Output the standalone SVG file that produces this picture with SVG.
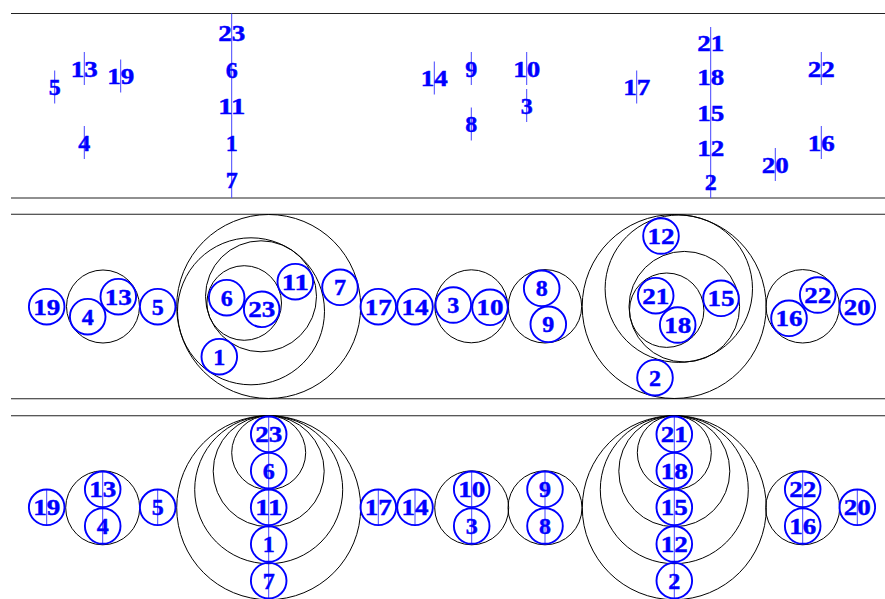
<svg xmlns="http://www.w3.org/2000/svg" width="885" height="599" viewBox="0 0 885 599">
<style>
.rule{stroke:#222;stroke-width:1.1;fill:none}
.bc{stroke:#000;stroke-width:1;fill:none}
.lc{stroke:#0000ff;stroke-width:1.9;fill:none}
.vl{stroke:#4444ff;stroke-width:1;fill:none}
text{font-family:"Liberation Serif","Times New Roman",serif;font-weight:bold;font-size:24px;fill:#0000ff;stroke:#0000ff;stroke-width:0.45;text-anchor:middle}
</style>
<rect width="885" height="599" fill="#fff"/>
<g id="rules">
<line class="rule" x1="11" y1="13.5" x2="885" y2="13.5"/>
<line class="rule" x1="11" y1="198" x2="885" y2="198"/>
<line class="rule" x1="11" y1="214.3" x2="885" y2="214.3"/>
<line class="rule" x1="11" y1="398.7" x2="885" y2="398.7"/>
<line class="rule" x1="11" y1="415.7" x2="885" y2="415.7"/>
</g>
<!-- connectors / guide lines -->
<g id="connectors">
<line class="vl" x1="54.7" y1="70.5" x2="54.7" y2="103.5"/>
<line class="vl" x1="84.3" y1="52" x2="84.3" y2="85"/>
<line class="vl" x1="120.7" y1="59.5" x2="120.7" y2="92.5"/>
<line class="vl" x1="84.3" y1="126" x2="84.3" y2="159"/>
<line class="vl" x1="231.7" y1="13.5" x2="231.7" y2="198"/>
<line class="vl" x1="434.3" y1="61.5" x2="434.3" y2="94.5"/>
<line class="vl" x1="471.3" y1="52" x2="471.3" y2="85"/>
<line class="vl" x1="471.3" y1="107.5" x2="471.3" y2="140.5"/>
<line class="vl" x1="526.7" y1="52" x2="526.7" y2="85"/>
<line class="vl" x1="526.7" y1="89" x2="526.7" y2="122"/>
<line class="vl" x1="636.7" y1="70.5" x2="636.7" y2="103.5"/>
<line class="vl" x1="710.7" y1="27" x2="710.7" y2="198"/>
<line class="vl" x1="821.3" y1="52" x2="821.3" y2="85"/>
<line class="vl" x1="821.3" y1="126" x2="821.3" y2="159"/>
<line class="vl" x1="775.3" y1="148" x2="775.3" y2="181"/>
<!-- bottom panel -->
<line class="vl" x1="46.7" y1="489.5" x2="46.7" y2="525.1"/>
<line class="vl" x1="102.7" y1="470.8" x2="102.7" y2="544.8"/>
<line class="vl" x1="157.7" y1="489.5" x2="157.7" y2="525.1"/>
<line class="vl" x1="268.7" y1="415.7" x2="268.7" y2="599"/>
<line class="vl" x1="378.3" y1="489.5" x2="378.3" y2="525.1"/>
<line class="vl" x1="415" y1="489.5" x2="415" y2="525.1"/>
<line class="vl" x1="471.7" y1="470.8" x2="471.7" y2="544.8"/>
<line class="vl" x1="545" y1="470.8" x2="545" y2="544.8"/>
<line class="vl" x1="674.3" y1="415.7" x2="674.3" y2="599"/>
<line class="vl" x1="802.7" y1="470.8" x2="802.7" y2="544.8"/>
<line class="vl" x1="857.3" y1="489.5" x2="857.3" y2="525.1"/>
</g>
<!-- TOP PANEL labels -->
<g id="top-5"><text x="54.7" y="95">5</text></g>
<g id="top-13"><text x="84.3" y="76.5" textLength="27" lengthAdjust="spacingAndGlyphs">13</text></g>
<g id="top-19"><text x="120.7" y="84" textLength="27" lengthAdjust="spacingAndGlyphs">19</text></g>
<g id="top-4"><text x="84.3" y="150.5">4</text></g>
<g id="top-23"><text x="231.7" y="40.8" textLength="27" lengthAdjust="spacingAndGlyphs">23</text></g>
<g id="top-6"><text x="231.7" y="77.5">6</text></g>
<g id="top-11"><text x="231.7" y="114.2" textLength="27" lengthAdjust="spacingAndGlyphs">11</text></g>
<g id="top-1"><text x="231.7" y="150.9">1</text></g>
<g id="top-7"><text x="231.7" y="187.6">7</text></g>
<g id="top-14"><text x="434.3" y="86" textLength="27" lengthAdjust="spacingAndGlyphs">14</text></g>
<g id="top-9"><text x="471.3" y="76.5">9</text></g>
<g id="top-8"><text x="471.3" y="132">8</text></g>
<g id="top-10"><text x="526.7" y="76.5" textLength="27" lengthAdjust="spacingAndGlyphs">10</text></g>
<g id="top-3"><text x="526.7" y="113.5">3</text></g>
<g id="top-17"><text x="636.7" y="95" textLength="27" lengthAdjust="spacingAndGlyphs">17</text></g>
<g id="top-21"><text x="710.7" y="51.3" textLength="27" lengthAdjust="spacingAndGlyphs">21</text></g>
<g id="top-18"><text x="710.7" y="85.3" textLength="27" lengthAdjust="spacingAndGlyphs">18</text></g>
<g id="top-15"><text x="710.7" y="120.5" textLength="27" lengthAdjust="spacingAndGlyphs">15</text></g>
<g id="top-12"><text x="710.7" y="155.7" textLength="27" lengthAdjust="spacingAndGlyphs">12</text></g>
<g id="top-2"><text x="710.7" y="189.7">2</text></g>
<g id="top-22"><text x="821.3" y="76.5" textLength="27" lengthAdjust="spacingAndGlyphs">22</text></g>
<g id="top-16"><text x="821.3" y="150.5" textLength="27" lengthAdjust="spacingAndGlyphs">16</text></g>
<g id="top-20"><text x="775.3" y="172.5" textLength="27" lengthAdjust="spacingAndGlyphs">20</text></g>
<!-- MIDDLE PANEL -->
<g id="mid-group-a"><circle class="bc" cx="103" cy="306.5" r="36.5"/></g>
<g id="mid-group-b">
<circle class="bc" cx="268.7" cy="306.5" r="92"/>
<circle class="bc" cx="251" cy="311.3" r="73.5"/>
<circle class="bc" cx="261" cy="296.3" r="55.5"/>
<circle class="bc" cx="244.2" cy="303" r="37.3"/>
</g>
<g id="mid-group-c"><circle class="bc" cx="471.3" cy="306.3" r="36.5"/></g>
<g id="mid-group-d"><circle class="bc" cx="545" cy="306.3" r="36.7"/></g>
<g id="mid-group-e">
<circle class="bc" cx="674.2" cy="306.5" r="92"/>
<circle class="bc" cx="678.8" cy="288.7" r="73.7"/>
<circle class="bc" cx="684.3" cy="306.7" r="55.3"/>
<circle class="bc" cx="666.7" cy="310.2" r="37.2"/>
</g>
<g id="mid-group-f"><circle class="bc" cx="802.7" cy="306.3" r="36.7"/></g>
<g id="mid-19"><circle class="lc" cx="46.7" cy="306.7" r="17.8"/><text x="46.7" y="314.7" textLength="27" lengthAdjust="spacingAndGlyphs">19</text></g>
<g id="mid-4"><circle class="lc" cx="87.7" cy="316.7" r="17.8"/><text x="87.7" y="324.7">4</text></g>
<g id="mid-13"><circle class="lc" cx="118.3" cy="296.7" r="17.8"/><text x="118.3" y="304.7" textLength="27" lengthAdjust="spacingAndGlyphs">13</text></g>
<g id="mid-5"><circle class="lc" cx="157.7" cy="306.7" r="17.8"/><text x="157.7" y="314.7">5</text></g>
<g id="mid-6"><circle class="lc" cx="226.7" cy="297.7" r="17.8"/><text x="226.7" y="305.7">6</text></g>
<g id="mid-23"><circle class="lc" cx="261.7" cy="309.3" r="17.8"/><text x="261.7" y="317.3" textLength="27" lengthAdjust="spacingAndGlyphs">23</text></g>
<g id="mid-11"><circle class="lc" cx="295.3" cy="281.7" r="17.8"/><text x="295.3" y="289.7" textLength="27" lengthAdjust="spacingAndGlyphs">11</text></g>
<g id="mid-7"><circle class="lc" cx="340" cy="287.3" r="17.8"/><text x="340" y="295.3">7</text></g>
<g id="mid-1"><circle class="lc" cx="219.3" cy="356.7" r="17.8"/><text x="219.3" y="364.7">1</text></g>
<g id="mid-17"><circle class="lc" cx="378.3" cy="306.7" r="17.8"/><text x="378.3" y="314.7" textLength="27" lengthAdjust="spacingAndGlyphs">17</text></g>
<g id="mid-14"><circle class="lc" cx="415" cy="306.7" r="17.8"/><text x="415" y="314.7" textLength="27" lengthAdjust="spacingAndGlyphs">14</text></g>
<g id="mid-3"><circle class="lc" cx="453.3" cy="305" r="17.8"/><text x="453.3" y="313">3</text></g>
<g id="mid-10"><circle class="lc" cx="490" cy="307.3" r="17.8"/><text x="490" y="315.3" textLength="27" lengthAdjust="spacingAndGlyphs">10</text></g>
<g id="mid-8"><circle class="lc" cx="541.7" cy="288.3" r="17.8"/><text x="541.7" y="296.3">8</text></g>
<g id="mid-9"><circle class="lc" cx="548.3" cy="324.3" r="17.8"/><text x="548.3" y="332.3">9</text></g>
<g id="mid-12"><circle class="lc" cx="661" cy="236" r="17.8"/><text x="661" y="244" textLength="27" lengthAdjust="spacingAndGlyphs">12</text></g>
<g id="mid-21"><circle class="lc" cx="655.7" cy="295.7" r="17.8"/><text x="655.7" y="303.7" textLength="27" lengthAdjust="spacingAndGlyphs">21</text></g>
<g id="mid-18"><circle class="lc" cx="677.7" cy="325" r="17.8"/><text x="677.7" y="333" textLength="27" lengthAdjust="spacingAndGlyphs">18</text></g>
<g id="mid-15"><circle class="lc" cx="721" cy="298.3" r="17.8"/><text x="721" y="306.3" textLength="27" lengthAdjust="spacingAndGlyphs">15</text></g>
<g id="mid-2"><circle class="lc" cx="655" cy="377.7" r="17.8"/><text x="655" y="385.7">2</text></g>
<g id="mid-16"><circle class="lc" cx="789" cy="318.3" r="17.8"/><text x="789" y="326.3" textLength="27" lengthAdjust="spacingAndGlyphs">16</text></g>
<g id="mid-22"><circle class="lc" cx="817.7" cy="295" r="17.8"/><text x="817.7" y="303" textLength="27" lengthAdjust="spacingAndGlyphs">22</text></g>
<g id="mid-20"><circle class="lc" cx="857.3" cy="306.7" r="17.8"/><text x="857.3" y="314.7" textLength="27" lengthAdjust="spacingAndGlyphs">20</text></g>
<!-- BOTTOM PANEL -->
<g id="bot-group-a"><circle class="bc" cx="102.7" cy="507.8" r="37"/></g>
<g id="bot-group-b">
<circle class="bc" cx="268.7" cy="507.7" r="92"/>
<circle class="bc" cx="268.7" cy="489.7" r="74"/>
<circle class="bc" cx="268.7" cy="471.2" r="55.5"/>
<circle class="bc" cx="268.7" cy="452.7" r="37"/>
</g>
<g id="bot-group-c"><circle class="bc" cx="471.7" cy="507.8" r="37"/></g>
<g id="bot-group-d"><circle class="bc" cx="545" cy="507.8" r="37"/></g>
<g id="bot-group-e">
<circle class="bc" cx="674.3" cy="507.7" r="92"/>
<circle class="bc" cx="674.3" cy="489.7" r="74"/>
<circle class="bc" cx="674.3" cy="471.2" r="55.5"/>
<circle class="bc" cx="674.3" cy="452.7" r="37"/>
</g>
<g id="bot-group-f"><circle class="bc" cx="802.7" cy="507.8" r="37"/></g>
<g id="bot-19"><circle class="lc" cx="46.7" cy="507.3" r="17.8"/><text x="46.7" y="515.3" textLength="27" lengthAdjust="spacingAndGlyphs">19</text></g>
<g id="bot-13"><circle class="lc" cx="102.7" cy="489.3" r="17.8"/><text x="102.7" y="497.3" textLength="27" lengthAdjust="spacingAndGlyphs">13</text></g>
<g id="bot-4"><circle class="lc" cx="102.7" cy="526" r="17.8"/><text x="102.7" y="534">4</text></g>
<g id="bot-5"><circle class="lc" cx="157.7" cy="507.3" r="17.8"/><text x="157.7" y="515.3">5</text></g>
<g id="bot-23"><circle class="lc" cx="268.7" cy="434.3" r="17.8"/><text x="268.7" y="442.3" textLength="27" lengthAdjust="spacingAndGlyphs">23</text></g>
<g id="bot-6"><circle class="lc" cx="268.7" cy="470.7" r="17.8"/><text x="268.7" y="478.7">6</text></g>
<g id="bot-11"><circle class="lc" cx="268.7" cy="507.3" r="17.8"/><text x="268.7" y="515.3" textLength="27" lengthAdjust="spacingAndGlyphs">11</text></g>
<g id="bot-1"><circle class="lc" cx="268.7" cy="544" r="17.8"/><text x="268.7" y="552">1</text></g>
<g id="bot-7"><circle class="lc" cx="268.7" cy="580.7" r="17.8"/><text x="268.7" y="588.7">7</text></g>
<g id="bot-17"><circle class="lc" cx="378.3" cy="507.3" r="17.8"/><text x="378.3" y="515.3" textLength="27" lengthAdjust="spacingAndGlyphs">17</text></g>
<g id="bot-14"><circle class="lc" cx="415" cy="507.3" r="17.8"/><text x="415" y="515.3" textLength="27" lengthAdjust="spacingAndGlyphs">14</text></g>
<g id="bot-10"><circle class="lc" cx="471.7" cy="489.3" r="17.8"/><text x="471.7" y="497.3" textLength="27" lengthAdjust="spacingAndGlyphs">10</text></g>
<g id="bot-3"><circle class="lc" cx="471.7" cy="526" r="17.8"/><text x="471.7" y="534">3</text></g>
<g id="bot-9"><circle class="lc" cx="545" cy="489.3" r="17.8"/><text x="545" y="497.3">9</text></g>
<g id="bot-8"><circle class="lc" cx="545" cy="526" r="17.8"/><text x="545" y="534">8</text></g>
<g id="bot-21"><circle class="lc" cx="674.3" cy="434.3" r="17.8"/><text x="674.3" y="442.3" textLength="27" lengthAdjust="spacingAndGlyphs">21</text></g>
<g id="bot-18"><circle class="lc" cx="674.3" cy="470.7" r="17.8"/><text x="674.3" y="478.7" textLength="27" lengthAdjust="spacingAndGlyphs">18</text></g>
<g id="bot-15"><circle class="lc" cx="674.3" cy="507.3" r="17.8"/><text x="674.3" y="515.3" textLength="27" lengthAdjust="spacingAndGlyphs">15</text></g>
<g id="bot-12"><circle class="lc" cx="674.3" cy="544" r="17.8"/><text x="674.3" y="552" textLength="27" lengthAdjust="spacingAndGlyphs">12</text></g>
<g id="bot-2"><circle class="lc" cx="674.3" cy="580.7" r="17.8"/><text x="674.3" y="588.7">2</text></g>
<g id="bot-22"><circle class="lc" cx="802.7" cy="489.3" r="17.8"/><text x="802.7" y="497.3" textLength="27" lengthAdjust="spacingAndGlyphs">22</text></g>
<g id="bot-16"><circle class="lc" cx="802.7" cy="526" r="17.8"/><text x="802.7" y="534" textLength="27" lengthAdjust="spacingAndGlyphs">16</text></g>
<g id="bot-20"><circle class="lc" cx="857.3" cy="507.3" r="17.8"/><text x="857.3" y="515.3" textLength="27" lengthAdjust="spacingAndGlyphs">20</text></g>
</svg>
